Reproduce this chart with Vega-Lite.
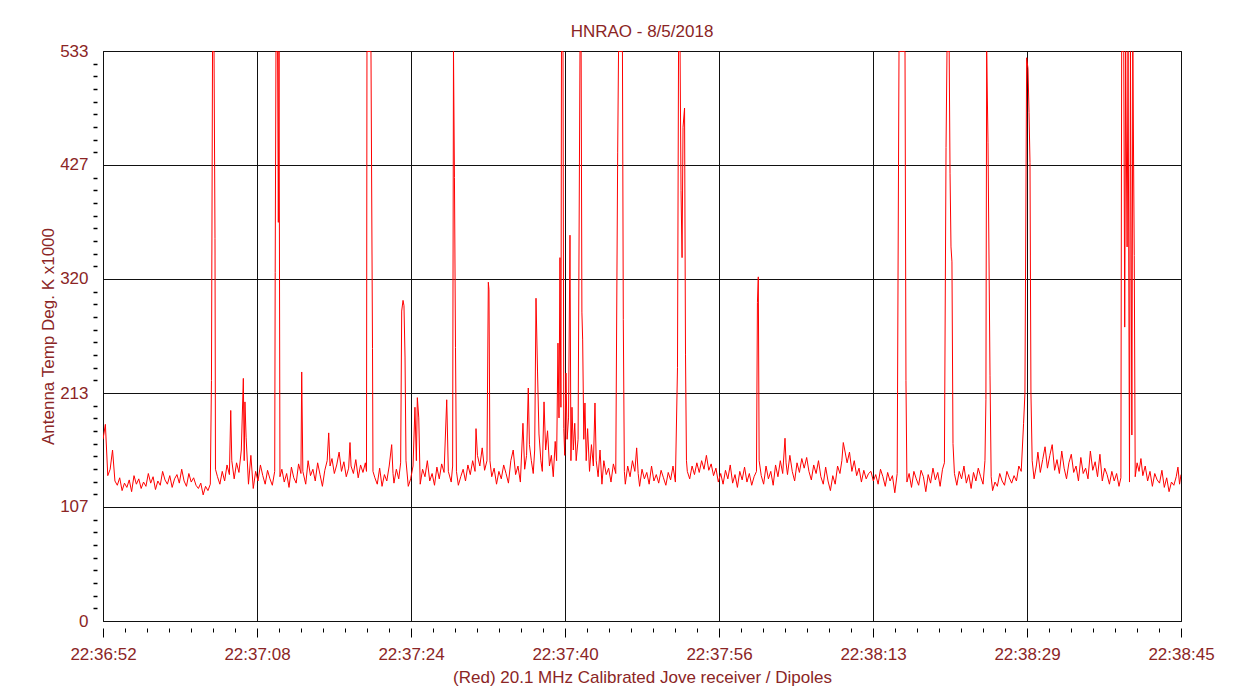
{
"$schema":"https://vega.github.io/schema/vega-lite/v6.json",
"width":1078,"height":570,"autosize":"none",
"padding":{"left":103,"top":51,"right":69,"bottom":75},
"background":"white",
"title":{"text":"HNRAO - 8/5/2018","font":"Liberation Sans","fontSize":17,"fontWeight":"normal","color":"#8b2525","anchor":"middle","offset":1},
"config":{"view":{"stroke":"#000","strokeWidth":1}},
"data":{"values":[
{"t":0,"v":170},{"t":0.25,"v":184},{"t":0.5,"v":136},{"t":0.75,"v":142},{"t":1.0,"v":160},{"t":1.25,"v":131},{"t":1.5,"v":127},{"t":1.75,"v":134},{"t":2.0,"v":122},{"t":2.25,"v":129},{"t":2.5,"v":125},{"t":2.75,"v":132},{"t":3.0,"v":121},{"t":3.25,"v":136},{"t":3.5,"v":128},{"t":3.75,"v":133},{"t":4.0,"v":124},{"t":4.25,"v":130},{"t":4.5,"v":126},{"t":4.75,"v":138},{"t":5.0,"v":129},{"t":5.25,"v":135},{"t":5.5,"v":123},{"t":5.75,"v":131},{"t":6.0,"v":127},{"t":6.25,"v":140},{"t":6.5,"v":132},{"t":6.75,"v":128},{"t":7.0,"v":136},{"t":7.25,"v":125},{"t":7.5,"v":133},{"t":7.75,"v":137},{"t":8.0,"v":129},{"t":8.25,"v":142},{"t":8.5,"v":131},{"t":8.75,"v":126},{"t":9.0,"v":138},{"t":9.25,"v":130},{"t":9.5,"v":134},{"t":9.75,"v":127},{"t":10.0,"v":124},{"t":10.25,"v":129},{"t":10.5,"v":118},{"t":10.75,"v":126},{"t":11.0,"v":122},{"t":11.25,"v":128},
{"t":11.37,"v":225},{"t":11.48,"v":533},{"t":11.64,"v":533},{"t":11.74,"v":358},{"t":11.79,"v":142},
{"t":12.0,"v":135},{"t":12.25,"v":128},{"t":12.5,"v":140},{"t":12.75,"v":131},{"t":13.0,"v":146},{"t":13.25,"v":137},{"t":13.39,"v":197},{"t":13.5,"v":150},{"t":13.75,"v":133},{"t":14.0,"v":148},{"t":14.25,"v":139},{"t":14.5,"v":160},{"t":14.71,"v":227},{"t":14.8,"v":150},{"t":14.88,"v":205},{"t":15.0,"v":172},{"t":15.25,"v":128},{"t":15.5,"v":155},{"t":15.75,"v":124},{"t":16.0,"v":140},{"t":16.25,"v":131},{"t":16.5,"v":146},{"t":16.75,"v":136},{"t":17.0,"v":128},{"t":17.25,"v":141},{"t":17.5,"v":133},{"t":17.75,"v":127},{"t":18.0,"v":140},
{"t":18.05,"v":326},{"t":18.13,"v":533},{"t":18.3,"v":533},{"t":18.38,"v":373},{"t":18.45,"v":533},{"t":18.55,"v":135},
{"t":18.75,"v":142},{"t":19.0,"v":130},{"t":19.25,"v":138},{"t":19.5,"v":125},{"t":19.75,"v":144},{"t":20.0,"v":134},{"t":20.25,"v":129},{"t":20.5,"v":147},{"t":20.75,"v":138},{"t":20.83,"v":233},{"t":20.95,"v":140},{"t":21.25,"v":128},{"t":21.5,"v":150},{"t":21.75,"v":136},{"t":22.0,"v":142},{"t":22.25,"v":131},{"t":22.5,"v":148},{"t":22.75,"v":137},{"t":23.0,"v":126},{"t":23.25,"v":141},{"t":23.5,"v":150},{"t":23.66,"v":176},{"t":23.8,"v":145},{"t":24.0,"v":152},{"t":24.25,"v":138},{"t":24.5,"v":146},{"t":24.75,"v":158},{"t":25.0,"v":140},{"t":25.25,"v":149},{"t":25.5,"v":135},{"t":25.75,"v":143},{"t":25.89,"v":167},{"t":26.0,"v":145},{"t":26.25,"v":138},{"t":26.5,"v":151},{"t":26.75,"v":134},{"t":27.0,"v":146},{"t":27.25,"v":139},{"t":27.5,"v":148},
{"t":27.62,"v":140},{"t":27.67,"v":533},{"t":28.09,"v":533},{"t":28.25,"v":255},{"t":28.3,"v":140},
{"t":28.5,"v":134},{"t":28.75,"v":128},{"t":29.0,"v":143},{"t":29.25,"v":126},{"t":29.5,"v":137},{"t":29.75,"v":131},{"t":30.0,"v":145},{"t":30.26,"v":165},{"t":30.4,"v":138},{"t":30.5,"v":129},{"t":30.75,"v":142},{"t":31.0,"v":133},{"t":31.2,"v":148},
{"t":31.31,"v":290},{"t":31.45,"v":300},{"t":31.55,"v":295},{"t":31.66,"v":247},{"t":31.76,"v":150},
{"t":32.0,"v":126},{"t":32.25,"v":133},{"t":32.5,"v":145},{"t":32.7,"v":200},{"t":32.85,"v":150},{"t":32.95,"v":209},{"t":33.1,"v":190},{"t":33.25,"v":128},{"t":33.5,"v":142},{"t":33.75,"v":135},{"t":34.0,"v":150},{"t":34.25,"v":131},{"t":34.5,"v":138},{"t":34.75,"v":127},{"t":35.0,"v":144},{"t":35.25,"v":133},{"t":35.5,"v":147},{"t":35.75,"v":139},{"t":36.03,"v":207},{"t":36.2,"v":140},{"t":36.5,"v":130},{"t":36.65,"v":145},
{"t":36.74,"v":533},{"t":36.84,"v":415},{"t":36.95,"v":256},{"t":37.05,"v":140},
{"t":37.25,"v":127},{"t":37.5,"v":135},{"t":37.75,"v":142},{"t":38.0,"v":131},{"t":38.25,"v":146},{"t":38.5,"v":137},{"t":38.75,"v":150},{"t":39.0,"v":140},{"t":39.1,"v":180},{"t":39.25,"v":155},{"t":39.5,"v":145},{"t":39.75,"v":162},{"t":40.0,"v":141},{"t":40.25,"v":150},{"t":40.39,"v":317},{"t":40.46,"v":310},{"t":40.56,"v":150},{"t":40.75,"v":135},{"t":41.0,"v":143},{"t":41.25,"v":128},{"t":41.5,"v":140},{"t":41.75,"v":133},{"t":42.0,"v":146},{"t":42.25,"v":138},{"t":42.5,"v":129},{"t":42.75,"v":150},{"t":43.0,"v":160},{"t":43.25,"v":137},{"t":43.5,"v":145},{"t":43.75,"v":130},{"t":44.02,"v":185},{"t":44.2,"v":142},{"t":44.4,"v":155},{"t":44.58,"v":218},{"t":44.7,"v":165},{"t":44.9,"v":150},{"t":45.1,"v":138},{"t":45.25,"v":160},{"t":45.39,"v":302},{"t":45.55,"v":233},{"t":45.7,"v":175},{"t":45.9,"v":150},{"t":46.05,"v":140},{"t":46.23,"v":205},{"t":46.4,"v":160},{"t":46.6,"v":178},{"t":46.8,"v":145},{"t":47.0,"v":155},{"t":47.2,"v":135},{"t":47.4,"v":168},{"t":47.55,"v":150},{"t":47.69,"v":260},{"t":47.8,"v":190},{"t":47.9,"v":340},{"t":48.0,"v":200},{"t":48.06,"v":533},{"t":48.22,"v":533},{"t":48.3,"v":180},{"t":48.4,"v":155},{"t":48.53,"v":232},{"t":48.65,"v":170},{"t":48.8,"v":190},{"t":48.95,"v":361},{"t":49.05,"v":150},{"t":49.16,"v":200},{"t":49.3,"v":160},{"t":49.45,"v":185},{"t":49.6,"v":150},{"t":49.8,"v":170},{"t":50.0,"v":533},{"t":50.12,"v":533},{"t":50.2,"v":289},{"t":50.28,"v":263},{"t":50.4,"v":170},{"t":50.52,"v":204},{"t":50.65,"v":150},{"t":50.8,"v":180},{"t":51.0,"v":140},{"t":51.2,"v":165},{"t":51.4,"v":145},{"t":51.57,"v":204},{"t":51.7,"v":150},{"t":51.9,"v":135},{"t":52.1,"v":160},{"t":52.3,"v":128},{"t":52.5,"v":150},{"t":52.75,"v":137},{"t":53.0,"v":143},{"t":53.25,"v":130},{"t":53.5,"v":147},{"t":53.75,"v":138},
{"t":53.95,"v":438},{"t":54.04,"v":533},{"t":54.45,"v":533},{"t":54.54,"v":282},{"t":54.65,"v":140},
{"t":54.75,"v":128},{"t":55.0,"v":145},{"t":55.25,"v":135},{"t":55.5,"v":150},{"t":55.75,"v":140},{"t":55.94,"v":162},{"t":56.1,"v":138},{"t":56.25,"v":126},{"t":56.5,"v":142},{"t":56.75,"v":133},{"t":57.0,"v":139},{"t":57.25,"v":128},{"t":57.5,"v":145},{"t":57.75,"v":131},{"t":58.0,"v":137},{"t":58.25,"v":129},{"t":58.5,"v":141},{"t":58.75,"v":134},{"t":59.0,"v":127},{"t":59.25,"v":139},{"t":59.5,"v":132},{"t":59.75,"v":145},{"t":60.0,"v":130},
{"t":60.22,"v":237},{"t":60.33,"v":533},{"t":60.49,"v":533},{"t":60.59,"v":403},{"t":60.7,"v":340},{"t":60.8,"v":462},{"t":60.96,"v":480},{"t":61.06,"v":249},{"t":61.16,"v":150},
{"t":61.25,"v":140},{"t":61.5,"v":133},{"t":61.75,"v":145},{"t":62.0,"v":137},{"t":62.25,"v":148},{"t":62.5,"v":139},{"t":62.75,"v":150},{"t":63.0,"v":142},{"t":63.25,"v":155},{"t":63.5,"v":141},{"t":63.75,"v":147},{"t":64.0,"v":136},{"t":64.25,"v":143},{"t":64.5,"v":130},{"t":64.75,"v":138},{"t":65.0,"v":128},{"t":65.25,"v":141},{"t":65.5,"v":133},{"t":65.75,"v":146},{"t":66.0,"v":129},{"t":66.25,"v":137},{"t":66.5,"v":125},{"t":66.75,"v":140},{"t":67.0,"v":132},{"t":67.25,"v":144},{"t":67.5,"v":130},{"t":67.75,"v":138},{"t":68.0,"v":127},{"t":68.25,"v":135},{"t":68.5,"v":140},{"t":68.6,"v":298},{"t":68.69,"v":322},{"t":68.78,"v":150},
{"t":69.0,"v":136},{"t":69.25,"v":128},{"t":69.5,"v":145},{"t":69.75,"v":133},{"t":70.0,"v":140},{"t":70.25,"v":127},{"t":70.5,"v":146},{"t":70.75,"v":135},{"t":71.0,"v":150},{"t":71.25,"v":138},{"t":71.49,"v":171},{"t":71.6,"v":148},{"t":71.75,"v":137},{"t":72.0,"v":155},{"t":72.25,"v":140},{"t":72.5,"v":131},{"t":72.75,"v":148},{"t":73.0,"v":139},{"t":73.25,"v":152},{"t":73.5,"v":143},{"t":73.76,"v":153},{"t":74.0,"v":140},{"t":74.25,"v":132},{"t":74.5,"v":146},{"t":74.75,"v":138},{"t":75.0,"v":150},{"t":75.25,"v":135},{"t":75.5,"v":128},{"t":75.75,"v":144},{"t":76.0,"v":131},{"t":76.25,"v":122},{"t":76.5,"v":136},{"t":76.75,"v":128},{"t":77.0,"v":145},{"t":77.25,"v":138},{"t":77.45,"v":150},{"t":77.6,"v":167},{"t":77.75,"v":160},{"t":78.0,"v":148},{"t":78.25,"v":158},{"t":78.5,"v":140},{"t":78.75,"v":150},{"t":79.0,"v":136},{"t":79.25,"v":143},{"t":79.5,"v":130},{"t":79.75,"v":141},{"t":80.0,"v":133},{"t":80.25,"v":138},{"t":80.5,"v":140},{"t":80.75,"v":131},{"t":81.0,"v":137},{"t":81.25,"v":128},{"t":81.5,"v":142},{"t":81.75,"v":135},{"t":82.0,"v":126},{"t":82.25,"v":139},{"t":82.5,"v":131},{"t":82.75,"v":136},{"t":83.0,"v":120},{"t":83.25,"v":138},
{"t":83.44,"v":533},{"t":84.07,"v":533},{"t":84.17,"v":225},{"t":84.27,"v":130},
{"t":84.5,"v":138},{"t":84.75,"v":125},{"t":85.0,"v":140},{"t":85.25,"v":133},{"t":85.5,"v":127},{"t":85.75,"v":141},{"t":86.0,"v":135},{"t":86.25,"v":121},{"t":86.5,"v":137},{"t":86.75,"v":129},{"t":87.0,"v":143},{"t":87.25,"v":132},{"t":87.5,"v":139},{"t":87.75,"v":126},{"t":88.0,"v":142},{"t":88.2,"v":148},
{"t":88.37,"v":443},{"t":88.47,"v":533},{"t":88.7,"v":533},{"t":88.79,"v":419},{"t":88.89,"v":350},{"t":88.99,"v":336},{"t":89.1,"v":166},
{"t":89.25,"v":138},{"t":89.5,"v":127},{"t":89.75,"v":140},{"t":90.0,"v":133},{"t":90.25,"v":145},{"t":90.5,"v":129},{"t":90.75,"v":137},{"t":91.0,"v":124},{"t":91.25,"v":139},{"t":91.5,"v":131},{"t":91.75,"v":143},{"t":92.0,"v":135},{"t":92.25,"v":128},{"t":92.45,"v":150},
{"t":92.55,"v":207},{"t":92.63,"v":533},{"t":92.77,"v":448},{"t":92.98,"v":230},{"t":93.1,"v":135},
{"t":93.25,"v":122},{"t":93.5,"v":130},{"t":93.75,"v":126},{"t":94.0,"v":138},{"t":94.25,"v":131},{"t":94.5,"v":127},{"t":94.75,"v":140},{"t":95.0,"v":134},{"t":95.25,"v":129},{"t":95.5,"v":136},{"t":95.75,"v":131},{"t":96.0,"v":145},{"t":96.25,"v":140},{"t":96.5,"v":185},
{"t":96.64,"v":213},{"t":96.82,"v":527},{"t":96.96,"v":517},{"t":97.07,"v":476},{"t":97.17,"v":429},{"t":97.27,"v":213},{"t":97.4,"v":150},
{"t":97.6,"v":133},{"t":97.85,"v":146},{"t":98.0,"v":158},{"t":98.25,"v":139},{"t":98.5,"v":151},{"t":98.75,"v":163},{"t":99.0,"v":143},{"t":99.25,"v":155},{"t":99.5,"v":165},{"t":99.75,"v":141},{"t":100.0,"v":151},{"t":100.25,"v":138},{"t":100.5,"v":159},{"t":100.75,"v":143},{"t":101.0,"v":133},{"t":101.25,"v":148},{"t":101.5,"v":156},{"t":101.75,"v":139},{"t":102.0,"v":145},{"t":102.25,"v":131},{"t":102.5,"v":153},{"t":102.75,"v":138},{"t":103.0,"v":143},{"t":103.25,"v":133},{"t":103.5,"v":159},{"t":103.75,"v":141},{"t":104.0,"v":149},{"t":104.25,"v":135},{"t":104.5,"v":156},{"t":104.75,"v":131},{"t":105.0,"v":143},{"t":105.25,"v":137},{"t":105.5,"v":128},{"t":105.75,"v":140},{"t":106.0,"v":131},{"t":106.25,"v":138},{"t":106.5,"v":126},{"t":106.7,"v":134},
{"t":106.78,"v":533},{"t":107.0,"v":533},{"t":107.1,"v":275},{"t":107.2,"v":533},{"t":107.35,"v":350},{"t":107.45,"v":533},{"t":107.6,"v":130},{"t":107.7,"v":533},{"t":107.85,"v":174},{"t":107.95,"v":533},{"t":108.1,"v":342},{"t":108.2,"v":135},
{"t":108.4,"v":148},{"t":108.6,"v":140},{"t":108.8,"v":152},{"t":109.0,"v":136},{"t":109.25,"v":145},{"t":109.5,"v":131},{"t":109.75,"v":140},{"t":110.0,"v":126},{"t":110.25,"v":138},{"t":110.5,"v":132},{"t":110.75,"v":129},{"t":111.0,"v":141},{"t":111.25,"v":125},{"t":111.5,"v":134},{"t":111.75,"v":121},{"t":112.0,"v":130},{"t":112.25,"v":127},{"t":112.5,"v":135},{"t":112.68,"v":144},{"t":112.85,"v":128},{"t":113.0,"v":137}
]},
"layer":[
{"mark":{"type":"line","color":"#ff0000","strokeWidth":1,"clip":true,"interpolate":"linear"},
 "encoding":{
  "x":{"field":"t","type":"quantitative","scale":{"domain":[0,113],"nice":false,"zero":false},
   "axis":{"orient":"bottom","values":[0,16.142857,32.285714,48.428571,64.571429,80.714286,96.857143,113],"grid":true,"gridColor":"#111","gridOpacity":1,"gridWidth":1,"domain":false,"ticks":false,"labels":false,"title":null}},
  "y":{"field":"v","type":"quantitative","scale":{"domain":[0,533.333],"nice":false,"zero":true},
   "axis":{"orient":"left","values":[0,106.667,213.333,320,426.667,533.333],"labelExpr":"format(datum.value,'.0f')","grid":true,"gridColor":"#111","gridOpacity":1,"gridWidth":1,"domain":false,"ticks":false,"tickSize":0,"labelPadding":15,"labelFont":"Liberation Sans","labelFontSize":17,"labelColor":"#8b2525","labelFlush":false,"labelOverlap":false,
    "title":"Antenna Temp Deg. K x1000","titleFont":"Liberation Sans","titleFontSize":17,"titleFontWeight":"normal","titleColor":"#8b2525","titlePadding":2}}}},
{"mark":{"type":"point","opacity":0},
 "encoding":{
  "x":{"field":"t","type":"quantitative",
   "axis":{"orient":"bottom","offset":7,"values":[0,16.142857,32.285714,48.428571,64.571429,80.714286,96.857143,113],"labelExpr":"['22:36:52','22:37:08','22:37:24','22:37:40','22:37:56','22:38:13','22:38:29','22:38:45'][round(datum.value*7/113)]","grid":false,"domain":false,"ticks":true,"tickSize":9,"tickColor":"#000","tickWidth":1,"labelPadding":9,"labelFont":"Liberation Sans","labelFontSize":17,"labelColor":"#8b2525","labelFlush":false,"labelOverlap":false,
    "title":"(Red) 20.1 MHz Calibrated Jove receiver / Dipoles","titleFont":"Liberation Sans","titleFontSize":17,"titleFontWeight":"normal","titleColor":"#8b2525","titlePadding":7}},
  "y":{"field":"v","type":"quantitative",
   "axis":{"orient":"left","offset":6,"values":[11.852,23.704,35.556,47.407,59.259,71.111,82.963,94.815,118.519,130.37,142.222,154.074,165.926,177.778,189.63,201.481,225.185,237.037,248.889,260.741,272.593,284.444,296.296,308.148,331.852,343.704,355.556,367.407,379.259,391.111,402.963,414.815,438.519,450.37,462.222,474.074,485.926,497.778,509.63,521.481],"grid":false,"domain":false,"labels":false,"ticks":true,"tickSize":4,"tickColor":"#000","tickWidth":1.5,"title":null}}}},
{"mark":{"type":"point","opacity":0},
 "encoding":{
  "x":{"field":"t","type":"quantitative",
   "axis":{"orient":"bottom","offset":7,"values":[2.306,4.612,6.918,9.224,11.531,13.837,18.449,20.755,23.061,25.367,27.673,29.98,34.592,36.898,39.204,41.51,43.816,46.122,50.735,53.041,55.347,57.653,59.959,62.265,66.878,69.184,71.49,73.796,76.102,78.408,83.02,85.327,87.633,89.939,92.245,94.551,99.163,101.469,103.776,106.082,108.388,110.694],"grid":false,"domain":false,"labels":false,"ticks":true,"tickSize":4,"tickColor":"#000","tickWidth":1,"title":null}},
  "y":{"field":"v","type":"quantitative","axis":null}}}
],
"resolve":{"axis":{"x":"independent","y":"independent"}}
}
